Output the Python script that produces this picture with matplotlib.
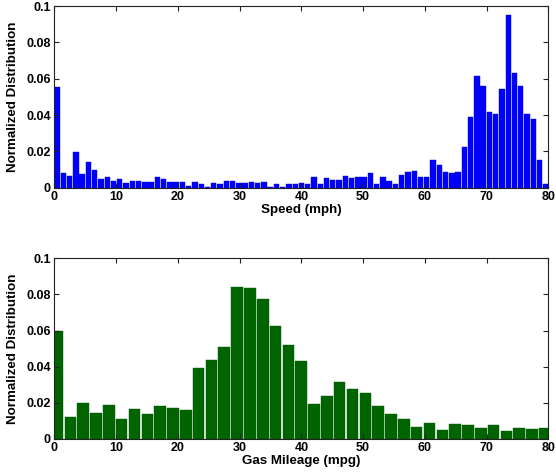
import numpy as np
import matplotlib
matplotlib.use("Agg")
import matplotlib.pyplot as plt
from matplotlib.ticker import FuncFormatter

# Speed histogram: 79 bins of width ~1.015 mph, first centre ~0.45 mph
speed_first_center = 0.45
speed_bin_width = 1.0147
speed_dist = [
    0.0552, 0.0081, 0.0066, 0.0196, 0.0073, 0.0143, 0.0095, 0.0048, 0.0057, 0.0037,
    0.0048, 0.0026, 0.0037, 0.0037, 0.0033, 0.0033, 0.0059, 0.0048, 0.0033, 0.0033,
    0.0033, 0.0011, 0.0033, 0.0022, 0.0003, 0.0026, 0.0018, 0.0037, 0.0037, 0.0026,
    0.0026, 0.0033, 0.0026, 0.0033, 0.0003, 0.0018, 0.0003, 0.0018, 0.0018, 0.0028,
    0.0022, 0.0057, 0.0020, 0.0051, 0.0040, 0.0040, 0.0066, 0.0051, 0.0061, 0.0059,
    0.0081, 0.0020, 0.0057, 0.0037, 0.0020, 0.0072, 0.0086, 0.0094, 0.0061, 0.0061,
    0.0152, 0.0123, 0.0086, 0.0079, 0.0086, 0.0226, 0.0387, 0.0613, 0.0561, 0.0415,
    0.0404, 0.0541, 0.0950, 0.0629, 0.0561, 0.0404, 0.0380, 0.0154, 0.0020,
]

# Gas mileage histogram: 39 bins of width ~2.08 mpg, first centre ~0.52 mpg
mpg_first_center = 0.52
mpg_bin_width = 2.077
mpg_dist = [
    0.0598, 0.0120, 0.0201, 0.0144, 0.0186, 0.0112, 0.0166, 0.0138, 0.0181, 0.0173,
    0.0162, 0.0393, 0.0439, 0.0507, 0.0841, 0.0834, 0.0773, 0.0624, 0.0520, 0.0432,
    0.0195, 0.0238, 0.0315, 0.0275, 0.0256, 0.0183, 0.0138, 0.0112, 0.0066, 0.0090,
    0.0052, 0.0085, 0.0077, 0.0061, 0.0077, 0.0046, 0.0061, 0.0057, 0.0061,
]

x_ticks = [0, 10, 20, 30, 40, 50, 60, 70, 80]
y_ticks = [0, 0.02, 0.04, 0.06, 0.08, 0.1]

speed_centers = speed_first_center + speed_bin_width * np.arange(len(speed_dist))
mpg_centers = mpg_first_center + mpg_bin_width * np.arange(len(mpg_dist))

plt.rcParams["font.family"] = ["Liberation Sans", "DejaVu Sans"]
plt.rcParams["font.weight"] = "bold"

fig = plt.figure(figsize=(5.56, 4.75), dpi=100)
ax1 = fig.add_axes([0.0977, 0.6048, 0.8885, 0.3825])
ax2 = fig.add_axes([0.0977, 0.0758, 0.8885, 0.3804])


def style(ax, xlabel):
    ax.set_xlim(0, 80)
    ax.set_ylim(0, 0.1)
    ax.set_xticks(x_ticks)
    ax.set_yticks(y_ticks)
    ax.yaxis.set_major_formatter(FuncFormatter(lambda v, p: "%g" % v))
    ax.tick_params(direction="in", length=3.6, width=0.8, top=True, right=True,
                   labelsize=9, pad=2.5, color="#222222")
    for lab in ax.get_xticklabels() + ax.get_yticklabels():
        lab.set_fontweight("bold")
    for s in ax.spines.values():
        s.set_linewidth(0.8)
        s.set_color("#222222")
    ax.set_xlabel(xlabel, fontweight="bold", fontsize=9.6, labelpad=0.5)
    ax.set_ylabel("Normalized Distribution", fontweight="bold", fontsize=9.6)
    ax.yaxis.set_label_coords(-0.071, 0.5)


ax1.bar(speed_centers, speed_dist, width=0.86 * speed_bin_width,
        color="#0000ff", edgecolor="#0000d0", linewidth=0.3)
style(ax1, "Speed (mph)")

ax2.bar(mpg_centers, mpg_dist, width=0.9 * mpg_bin_width,
        color="#006400", edgecolor="#005a00", linewidth=0.3)
style(ax2, "Gas Mileage (mpg)")

fig.savefig("out.png", dpi=100)
